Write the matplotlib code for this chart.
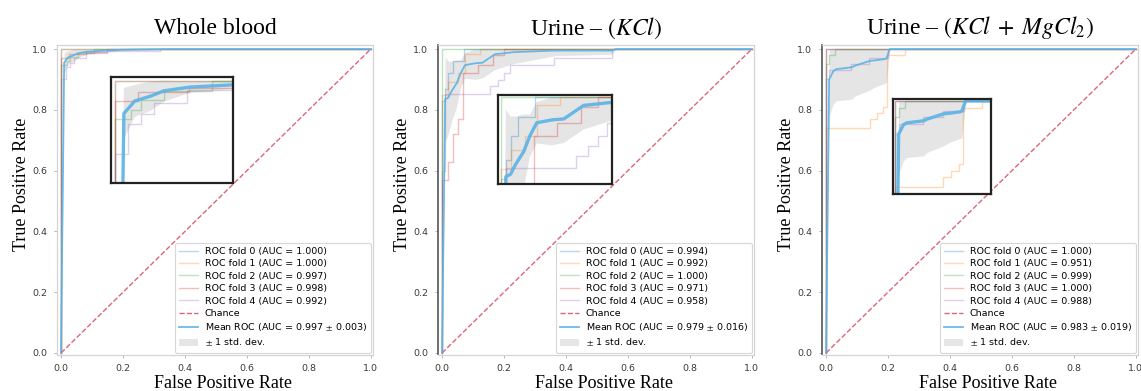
import numpy as np
import matplotlib
matplotlib.use("Agg")
import matplotlib.pyplot as plt

plt.rcParams['mathtext.fontset'] = 'stix'

# ---------------- data ----------------
titles = ["Whole blood", r"Urine – $(KCl)$", r"Urine – $(KCl\;+\;MgCl_2)$"]
xticks = [0.0, 0.2, 0.4, 0.6, 0.8, 1.0]
yticks = [0.0, 0.2, 0.4, 0.6, 0.8, 1.0]

# Whole blood
wb_fold_fpr = [
    [0, 0, 1],
    [0, 0, 1],
    [0, 0, 0.018, 0.018, 0.029, 0.029, 0.054, 0.054, 0.107, 0.107, 1],
    [0, 0, 0.026, 0.026, 0.082, 0.082, 0.15, 0.15, 1],
    [0, 0, 0.015, 0.015, 0.029, 0.029, 0.043, 0.043, 0.079, 0.079, 0.15, 0.15, 0.32, 0.32, 1],
]
wb_fold_tpr = [
    [0, 1, 1],
    [0, 1, 1],
    [0, 0.948, 0.948, 0.96, 0.96, 0.973, 0.973, 0.986, 0.986, 1, 1],
    [0, 0.972, 0.972, 0.985, 0.985, 0.99, 0.99, 1, 1],
    [0, 0.90, 0.90, 0.94, 0.94, 0.954, 0.954, 0.969, 0.969, 0.987, 0.987, 0.995, 0.995, 1, 1],
]
wb_auc = [1.000, 1.000, 0.997, 0.998, 0.992]
wb_mean_auc, wb_std_auc = 0.997, 0.003
wb_mean_fpr = [0, 0.0101, 0.022, 0.040, 0.054, 0.082, 0.127, 0.2, 0.35, 1.0]
wb_mean_tpr = [0, 0.955, 0.972, 0.979, 0.986, 0.991, 0.994, 0.998, 1.0, 1.0]
wb_std_tpr = [0, 0.035, 0.022, 0.02, 0.015, 0.008, 0.006, 0.003, 0, 0]

# Urine KCl
kcl_fold_fpr = [
    [0, 0, 0.01, 0.01, 0.02, 0.02, 0.035, 0.035, 0.07, 0.07, 1],
    [0, 0, 0.02, 0.02, 0.05, 0.05, 0.074, 0.074, 0.123, 0.123, 1],
    [0, 0, 1],
    [0, 0, 0.02, 0.02, 0.035, 0.035, 0.05, 0.05, 0.068, 0.068, 0.117, 0.117, 0.166, 0.166, 0.2, 0.2, 1],
    [0, 0, 0.01, 0.01, 0.155, 0.155, 0.18, 0.18, 0.2, 0.2, 0.22, 0.22, 0.36, 0.36, 0.55, 0.55, 1],
]
kcl_fold_tpr = [
    [0, 0.83, 0.83, 0.87, 0.87, 0.92, 0.92, 0.96, 0.96, 1, 1],
    [0, 0.85, 0.85, 0.89, 0.89, 0.92, 0.92, 0.983, 0.983, 1, 1],
    [0, 1, 1],
    [0, 0.57, 0.57, 0.63, 0.63, 0.72, 0.72, 0.77, 0.77, 0.92, 0.92, 0.947, 0.947, 0.98, 0.98, 1, 1],
    [0, 0.6, 0.6, 0.853, 0.853, 0.877, 0.877, 0.898, 0.898, 0.92, 0.92, 0.947, 0.947, 0.97, 0.97, 1, 1],
]
kcl_auc = [0.994, 0.992, 1.000, 0.971, 0.958]
kcl_mean_auc, kcl_std_auc = 0.979, 0.016
kcl_mean_fpr = [0, 0.0101, 0.02, 0.03, 0.047, 0.06, 0.074, 0.106, 0.13, 0.171, 0.235, 0.365, 0.45, 0.55, 0.56, 1.0]
kcl_mean_tpr = [0, 0.835, 0.84, 0.86, 0.887, 0.92, 0.947, 0.953, 0.955, 0.983, 0.99, 0.995, 0.995, 0.995, 1.0, 1.0]
kcl_std_tpr = [0, 0.14, 0.12, 0.1, 0.077, 0.044, 0.043, 0.053, 0.05, 0.05, 0.037, 0.017, 0.015, 0.012, 0, 0]

# Urine KCl + MgCl2
mg_fold_fpr = [
    [0, 0, 1],
    [0, 0, 0.141, 0.141, 0.163, 0.163, 0.185, 0.185, 0.197, 0.197, 0.254, 0.254, 1],
    [0, 0, 0.01, 0.01, 0.03, 0.03, 1],
    [0, 0, 1],
    [0, 0, 0.01, 0.01, 0.08, 0.08, 0.14, 0.14, 0.2, 0.2, 1],
]
mg_fold_tpr = [
    [0, 1, 1],
    [0, 0.741, 0.741, 0.77, 0.77, 0.79, 0.79, 0.81, 0.81, 0.98, 0.98, 1, 1],
    [0, 0.95, 0.95, 0.98, 0.98, 1, 1],
    [0, 1, 1],
    [0, 0.9, 0.9, 0.93, 0.93, 0.95, 0.95, 0.97, 0.97, 1, 1],
]
mg_auc = [1.000, 0.951, 0.999, 1.000, 0.988]
mg_mean_auc, mg_std_auc = 0.983, 0.019
mg_mean_fpr = [0, 0.0101, 0.024, 0.034, 0.083, 0.093, 0.141, 0.16, 0.19, 0.195, 0.206, 1.0]
mg_mean_tpr = [0, 0.90, 0.928, 0.934, 0.94, 0.945, 0.961, 0.963, 0.967, 0.97, 1.0, 1.0]
mg_std_tpr = [0, 0.12, 0.108, 0.104, 0.105, 0.1, 0.096, 0.087, 0.08, 0.08, 0, 0]

panels = [
    (wb_fold_fpr, wb_fold_tpr, wb_auc, wb_mean_fpr, wb_mean_tpr, wb_std_tpr, wb_mean_auc, wb_std_auc),
    (kcl_fold_fpr, kcl_fold_tpr, kcl_auc, kcl_mean_fpr, kcl_mean_tpr, kcl_std_tpr, kcl_mean_auc, kcl_std_auc),
    (mg_fold_fpr, mg_fold_tpr, mg_auc, mg_mean_fpr, mg_mean_tpr, mg_std_tpr, mg_mean_auc, mg_std_auc),
]

# ---------------- layout / style ----------------
W, H = 1141, 391
fig = plt.figure(figsize=(W / 100, H / 100), dpi=100)
fig.patch.set_facecolor('white')

axes_left_px = [57, 438, 822]
ax_w_px, ax_top_px, ax_bot_px = 316, 45.4, 354.5
inset_rects = [
    [0.171, 0.555, 0.386, 0.343],
    [0.190, 0.552, 0.361, 0.288],
    [0.225, 0.519, 0.310, 0.307],
]
inset_lims = [
    ((-0.004, 0.13), (0.86, 1.005)),
    ((-0.006, 0.23), (0.82, 1.005)),
    ((-0.006, 0.28), (0.72, 1.005)),
]
fold_colors = ['C0', 'C1', 'C2', 'C3', 'C4']
mean_color = '#5ab3e6'
chance_color = '#d9546e'
serif = 'Liberation Serif'

for i, (ffpr, ftpr, aucs, mfpr, mtpr, stpr, mauc, sauc) in enumerate(panels):
    left = axes_left_px[i] / W
    bottom = (H - ax_bot_px) / H
    ax = fig.add_axes([left, bottom, ax_w_px / W, (ax_bot_px - ax_top_px) / H])

    mfpr_a = np.array(mfpr)
    mtpr_a = np.array(mtpr)
    stpr_a = np.array(stpr)
    upper = np.minimum(mtpr_a + stpr_a, 1)
    lower = np.maximum(mtpr_a - stpr_a, 0)

    def draw(a, lw_fold, lw_mean, with_labels):
        for k in range(5):
            a.plot(ffpr[k], ftpr[k], color=fold_colors[k], lw=lw_fold, alpha=0.3,
                   label=(f'ROC fold {k} (AUC = {aucs[k]:.3f})' if with_labels else None))
        if with_labels:
            a.plot([0, 1], [0, 1], linestyle='--', lw=1.0, color=chance_color, alpha=0.9,
                   label='Chance')
        a.plot(mfpr, mtpr, color=mean_color, lw=lw_mean, alpha=0.9,
               label=(r'Mean ROC (AUC = %0.3f $\pm$ %0.3f)' % (mauc, sauc) if with_labels else None))
        a.fill_between(mfpr_a, lower, upper, color='grey', alpha=0.2, lw=0,
                       label=(r'$\pm$ 1 std. dev.' if with_labels else None))

    draw(ax, 1.0, 1.3, True)
    ax.set_xlim(-0.013, 1.007)
    ax.set_ylim(-0.005, 1.012)
    ax.set_xticks(xticks)
    ax.set_yticks(yticks)
    ax.set_xticklabels([f'{t:.1f}' for t in xticks])
    ax.set_yticklabels([f'{t:.1f}' for t in yticks])
    ax.tick_params(labelsize=6.8, labelcolor='#3a3a3a', length=2.2, width=0.6,
                   color='#aaaaaa', pad=4.7)
    for s in ax.spines.values():
        s.set_color('#d4d4d4')
        s.set_linewidth(0.9)
    if i > 0:
        ax.spines['left'].set_color('#555555')
        ax.spines['left'].set_linewidth(1.2)

    ax.set_title(titles[i], fontsize=17, family=serif, pad=8)
    ax.set_xlabel('False Positive Rate', fontsize=13, family=serif, labelpad=1.5)
    ax.set_ylabel('True Positive Rate', fontsize=13, family=serif, labelpad=2)
    ax.xaxis.label.set_x(0.525)
    ax.yaxis.label.set_y(0.55)

    leg = ax.legend(loc='lower right', fontsize=6.8, labelspacing=0.36,
                    handlelength=2.0, handletextpad=0.7, borderpad=0.45,
                    borderaxespad=0.2, framealpha=0.85)
    leg.get_frame().set_edgecolor('#d0d0d0')
    leg.get_frame().set_linewidth(0.8)

    # inset zoom
    ins = ax.inset_axes(inset_rects[i])
    ins.set_facecolor('white')
    draw(ins, 1.0, 2.4, False)
    ins.set_xlim(*inset_lims[i][0])
    ins.set_ylim(*inset_lims[i][1])
    ins.set_xticks([])
    ins.set_yticks([])
    for s in ins.spines.values():
        s.set_color('#222222')
        s.set_linewidth(1.6)
    ins.set_zorder(5)

fig.savefig('out.png', dpi=100)
